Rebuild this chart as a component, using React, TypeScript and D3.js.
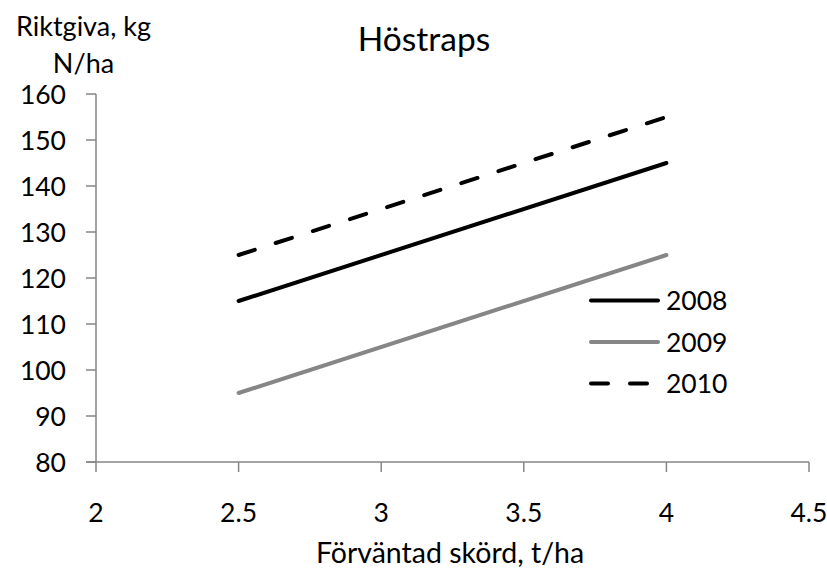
import React from "react";
import * as d3 from "d3";

const years = ["2008", "2009", "2010"];
const xValues = [2.5, 4];
const series2008 = [115, 145];
const series2009 = [95, 125];
const series2010 = [125, 155];
const xTicks = [2, 2.5, 3, 3.5, 4, 4.5];
const yTicks = [80, 90, 100, 110, 120, 130, 140, 150, 160];

const FONT = "Lato, 'Open Sans', sans-serif";

export default function App() {
  const W = 827, H = 568;
  const x = d3.scaleLinear().domain([2, 4.5]).range([96, 809]);
  const y = d3.scaleLinear().domain([80, 160]).range([462, 94]);
  const line = d3.line<[number, number]>().x(d => x(d[0])).y(d => y(d[1]));
  const seriesList = [
    { name: years[0], values: series2008, color: "#000000", dash: undefined },
    { name: years[1], values: series2009, color: "#868686", dash: undefined },
    { name: years[2], values: series2010, color: "#000000", dash: "17 22" },
  ];
  const axisColor = "#868686";
  return (
    <svg width={W} height={H} style={{ position: "absolute", left: 0, top: 0, background: "#fff" }}>
      <rect width={W} height={H} fill="#fff" />
      {/* axes */}
      <line x1={x(2)} x2={x(2)} y1={y(160)} y2={y(80)} stroke={axisColor} strokeWidth={1.5} />
      <line x1={x(2) - 10} x2={x(4.5)} y1={y(80)} y2={y(80)} stroke={axisColor} strokeWidth={1.5} />
      {yTicks.map(t => (
        <g key={"y" + t}>
          <line x1={x(2) - 10} x2={x(2)} y1={y(t)} y2={y(t)} stroke={axisColor} strokeWidth={1.5} />
          <text x={x(2) - 30} y={y(t)} dy="0.36em" textAnchor="end" fontSize={26.5} fontFamily={FONT} fill="#000">{t}</text>
        </g>
      ))}
      {xTicks.map(t => (
        <g key={"x" + t}>
          <line x1={x(t)} x2={x(t)} y1={y(80)} y2={y(80) + 10} stroke={axisColor} strokeWidth={1.5} />
          <text x={x(t)} y={y(80) + 60} textAnchor="middle" fontSize={26.5} fontFamily={FONT} fill="#000">{t}</text>
        </g>
      ))}
      {/* series */}
      {seriesList.map(s => (
        <path key={s.name}
          d={line(xValues.map((v, i) => [v, s.values[i]] as [number, number])) || ""}
          fill="none" stroke={s.color} strokeWidth={4} strokeLinecap="round" strokeDasharray={s.dash} />
      ))}
      {/* legend */}
      {seriesList.map((s, i) => (
        <g key={"l" + s.name} transform={`translate(0, ${300.5 + i * 41.5})`}>
          <line x1={591} x2={658} y1={0} y2={0} stroke={s.color} strokeWidth={4} strokeLinecap="round" strokeDasharray={s.dash} />
          <text x={666} y={0} dy="0.36em" fontSize={26.5} fontFamily={FONT} fill="#000">{s.name}</text>
        </g>
      ))}
      {/* titles */}
      <text x={424} y={51} textAnchor="middle" fontSize={33.5} fontFamily={FONT} fill="#000">Höstraps</text>
      <text x={83.5} y={36} textAnchor="middle" fontSize={27} fontFamily={FONT} fill="#000">Riktgiva, kg</text>
      <text x={83.5} y={73} textAnchor="middle" fontSize={27} fontFamily={FONT} fill="#000">N/ha</text>
      <text x={450} y={563} textAnchor="middle" fontSize={28.5} fontFamily={FONT} fill="#000">Förväntad skörd, t/ha</text>
    </svg>
  );
}
